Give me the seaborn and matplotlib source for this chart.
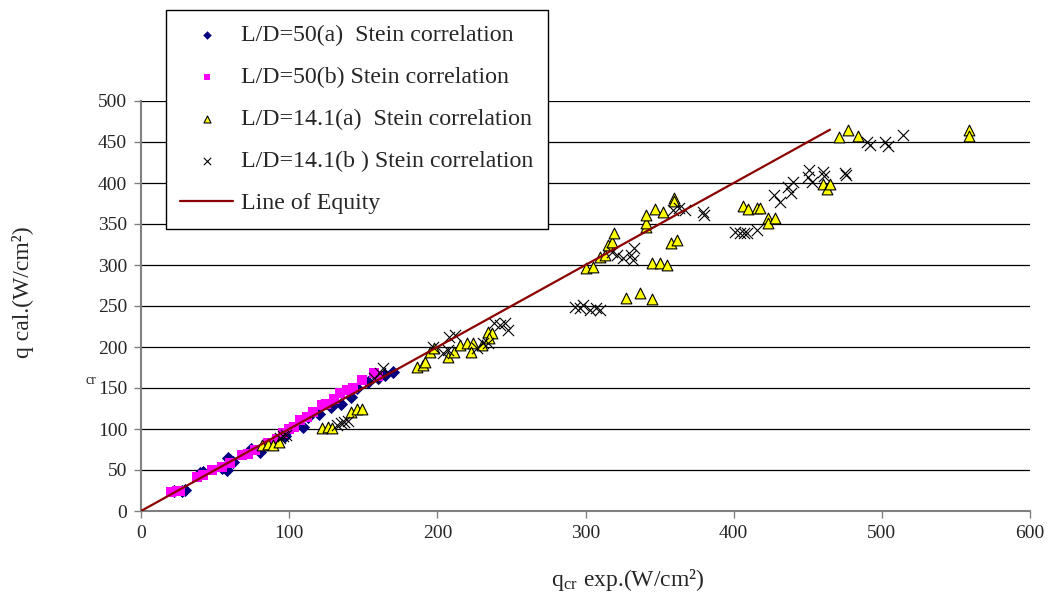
import matplotlib
matplotlib.use("Agg")
import matplotlib.pyplot as plt
import seaborn as sns

# ------------------------------------------------------------
# Data (W/cm2)
# ------------------------------------------------------------
ld50a_x = [22, 28, 30, 40, 42, 55, 58, 59, 60, 62, 74, 80, 90, 97, 100, 109, 113,
           120, 128, 135, 142, 146, 153, 160, 165, 170]
ld50a_y = [24, 24, 26, 46, 48, 52, 50, 65, 62, 60, 76, 72, 85, 92, 100, 103, 115,
           118, 127, 130, 139, 150, 157, 162, 166, 170]

ld50b_x = [20, 24, 26, 38, 42, 48, 55, 60, 68, 72, 77, 86, 92, 96, 100, 103, 107,
           112, 116, 122, 125, 130, 134, 139, 143, 149, 157, 160]
ld50b_y = [23, 25, 25, 42, 44, 50, 54, 58, 68, 70, 74, 83, 88, 95, 100, 103, 111,
           115, 121, 129, 130, 136, 144, 148, 150, 160, 168, 165]

ld141a_x = [82, 86, 89, 93, 122, 126, 129, 142, 146, 149, 186, 190, 192, 195, 198,
            207, 211, 215, 220, 224, 223, 230, 234, 237, 235, 300, 305, 310, 313,
            315, 318, 319, 327, 337, 345, 341, 341, 341, 345, 347, 350, 352, 355,
            358, 360, 360, 362, 406, 410, 416, 418, 423, 423, 428, 460, 463, 465,
            471, 477, 484, 559, 559]
ld141a_y = [80, 82, 80, 84, 101, 103, 101, 121, 125, 124, 176, 178, 182, 194, 199,
            188, 194, 202, 205, 205, 194, 202, 218, 217, 211, 296, 298, 310, 312,
            324, 328, 339, 260, 266, 259, 346, 351, 361, 302, 368, 302, 365, 300,
            327, 382, 378, 331, 372, 368, 370, 370, 357, 351, 357, 399, 393, 399,
            456, 465, 457, 465, 457]

ld141b_x = [94, 96, 98, 132, 135, 137, 140, 157, 161, 163, 197, 204, 207, 208, 212,
            227, 231, 234, 238, 242, 246, 248, 293, 296, 298, 303, 307, 310, 318,
            321, 325, 331, 333, 332, 359, 363, 367, 379, 380, 401, 404, 407, 409,
            416, 427, 431, 437, 439, 440, 450, 451, 453, 460, 461, 475, 476, 490,
            492, 502, 504, 514]
ld141b_y = [89, 91, 93, 105, 107, 109, 110, 162, 168, 174, 200, 193, 196, 212, 215,
            199, 205, 205, 229, 227, 229, 221, 249, 248, 251, 245, 247, 245, 316,
            312, 308, 312, 321, 306, 367, 370, 367, 365, 361, 340, 339, 339, 339,
            343, 385, 377, 395, 388, 401, 407, 416, 401, 413, 409, 412, 410, 450,
            446, 450, 445, 458]

equity_x = [0, 465]
equity_y = [0, 465]

labels = ["L/D=50(a)  Stein correlation",
          "L/D=50(b) Stein correlation",
          "L/D=14.1(a)  Stein correlation",
          "L/D=14.1(b ) Stein correlation",
          "Line of Equity"]

# ------------------------------------------------------------
# Style
# ------------------------------------------------------------
sns.set_style("white")
plt.rcParams["font.family"] = ["Liberation Serif", "DejaVu Serif"]
plt.rcParams["mathtext.fontset"] = "stix"

fig = plt.figure(figsize=(10.48, 6), dpi=100)
ax = fig.add_axes([141 / 1048, 1 - 511 / 600, 889 / 1048, 410 / 600])

# ------------------------------------------------------------
# Series
# ------------------------------------------------------------
sns.scatterplot(x=ld50a_x, y=ld50a_y, marker="D", color="#000080", s=45,
                linewidth=0, label=labels[0], ax=ax, zorder=3)
sns.scatterplot(x=ld50b_x, y=ld50b_y, marker="s", color="#FF00FF", s=55,
                linewidth=0, label=labels[1], ax=ax, zorder=3)
sns.scatterplot(x=ld141a_x, y=ld141a_y, marker="^", color="#FFFF00", s=60,
                edgecolor="black", linewidth=0.8, label=labels[2], ax=ax, zorder=3)
sns.scatterplot(x=ld141b_x, y=ld141b_y, marker="x", color="black", s=65,
                linewidth=0.8, label=labels[3], ax=ax, zorder=3)
sns.lineplot(x=equity_x, y=equity_y, color="#8B0000", linewidth=1.6,
             label=labels[4], ax=ax, zorder=4)

# ------------------------------------------------------------
# Axes
# ------------------------------------------------------------
ax.set_xlim(0, 600)
ax.set_ylim(0, 500)
ax.set_xticks(range(0, 601, 100))
ax.set_yticks(range(0, 501, 50))
ax.yaxis.grid(True, color="black", linewidth=0.9)
ax.xaxis.grid(False)
ax.set_axisbelow(True)
for side in ["top", "right"]:
    ax.spines[side].set_visible(False)
for side in ["left", "bottom"]:
    ax.spines[side].set_color("#808080")
    ax.spines[side].set_linewidth(1.5)
ax.tick_params(bottom=True, left=True, direction="out", length=5, width=1,
               color="#808080", labelsize=14, pad=5)

ax.set_xlabel("")
ax.set_ylabel("")
fig.text(628 / 1048, 1 - 580 / 600, r"q$_{\mathregular{cr}}$ exp.(W/cm²)",
         fontsize=17, ha="center", va="center")
fig.text(23 / 1048, 1 - 292 / 600, "q cal.(W/cm²)", fontsize=17, rotation=90,
         ha="center", va="center")
fig.text(91 / 1048, 1 - 381 / 600, "cr", fontsize=10, ha="center", va="center")

# ------------------------------------------------------------
# Legend
# ------------------------------------------------------------
handles, labs = ax.get_legend_handles_labels()
leg = ax.legend(handles, labs, loc="upper left",
                bbox_to_anchor=(166 / 1048, 1 - 10 / 600),
                bbox_transform=fig.transFigure, borderaxespad=0,
                frameon=True, fancybox=False,
                edgecolor="black", framealpha=1, fontsize=17.2,
                labelspacing=0.85, borderpad=0.6, handlelength=2.2,
                handletextpad=0.35, markerscale=0.65)
leg.get_frame().set_linewidth(1.0)

fig.savefig("out.png", dpi=100)
